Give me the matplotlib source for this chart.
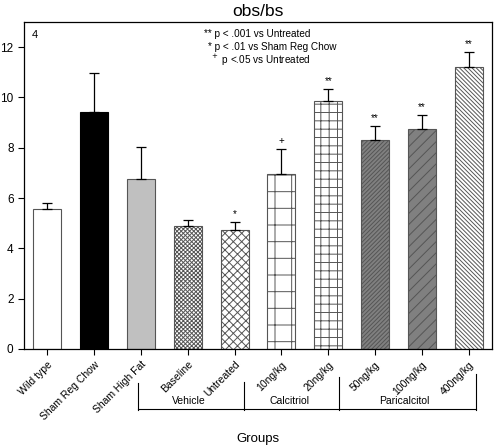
import numpy as np
import matplotlib
matplotlib.use("Agg")
import matplotlib.pyplot as plt
import matplotlib.transforms as mtransforms

groups = ['Wild type', 'Sham Reg Chow', 'Sham High Fat', 'Baseline', 'Untreated',
          '10ng/kg', '20ng/kg', '50ng/kg', '100ng/kg', '400ng/kg']
means = [5.55, 9.43, 6.76, 4.90, 4.72, 6.96, 9.87, 8.30, 8.76, 11.22]
errs = [0.24, 1.53, 1.28, 0.24, 0.33, 1.00, 0.45, 0.57, 0.54, 0.60]
marks = ['', '', '', '', '*', '+', '**', '**', '**', '**']
facecolors = ['white', 'black', '#c0c0c0', 'white', 'white', 'white', 'white',
              '#808080', '#808080', 'white']
hatches = [None, None, None, 'x' * 8, 'xxxx', '+', '++', '/' * 8, '///', '\\' * 8]
# bracket groups: label, left, right (in bar index units)
brackets = [('Vehicle', 1.94, 4.21), ('Calcitriol', 4.21, 6.22), ('Paricalcitol', 6.22, 9.15)]
notes = ['** p < .001 vs Untreated', '* p < .01 vs Sham Reg Chow', r'$^+$ p <.05 vs Untreated']

plt.rcParams['font.family'] = 'Liberation Sans'
plt.rcParams['hatch.linewidth'] = 0.7

fig = plt.figure(figsize=(4.94, 4.48), dpi=100)
ax = fig.add_axes([0.0486, 0.221, 0.9474, 0.730])

x = np.arange(len(groups))
for i in range(len(groups)):
    ax.bar(x[i], means[i], width=0.6, color=facecolors[i], hatch=hatches[i],
           edgecolor='#555555' if facecolors[i] != 'black' else 'black', linewidth=0.8, zorder=2)
ax.errorbar(x, means, yerr=[np.zeros(len(errs)), errs], fmt='none', ecolor='black',
            elinewidth=0.9, capsize=3.8, capthick=0.9, zorder=3)
for i, m in enumerate(marks):
    if m:
        ax.text(x[i], means[i] + errs[i] + 0.12, m, ha='center', va='bottom', fontsize=7)

ax.set_xlim(-0.5, 9.5)
ax.set_ylim(0, 13)
ax.set_yticks(np.arange(0, 13, 2))
ax.set_xticks(x)
ax.set_xticklabels(groups, rotation=45, ha='right', rotation_mode='anchor', fontsize=7.5)
ax.tick_params(axis='y', labelsize=8.5, length=4, width=0.8)
ax.tick_params(axis='x', length=4, width=0.8)
for s in ax.spines.values():
    s.set_linewidth(0.9)

ax.set_title('obs/bs', fontsize=12.5, pad=4)
ax.text(0.016, 0.975, '4', transform=ax.transAxes, fontsize=8, va='top')
offs = [0.385, 0.393, 0.397]
for k, (t, o) in enumerate(zip(notes, offs)):
    ax.text(o, 0.962 - 0.040 * k, t, transform=ax.transAxes, fontsize=7.2, va='center')

trans = mtransforms.blended_transform_factory(ax.transData, ax.transAxes)
tops = [-0.104, -0.10, -0.086, -0.076]
edges = [brackets[0][1], brackets[1][1], brackets[2][1], brackets[2][2]]
for (lab, l, r) in brackets:
    ax.plot([l, r], [-0.182, -0.182], color='black', lw=0.8, transform=trans, clip_on=False)
    ax.text((l + r) / 2 - 0.05, -0.16, lab, transform=trans, ha='center', va='center', fontsize=7.5)
for e, t in zip(edges, tops):
    ax.plot([e, e], [t, -0.188], color='black', lw=0.8, transform=trans, clip_on=False)

fig.text(0.522, 0.02, 'Groups', ha='center', va='center', fontsize=9.5)

fig.savefig('out.png', dpi=100)
